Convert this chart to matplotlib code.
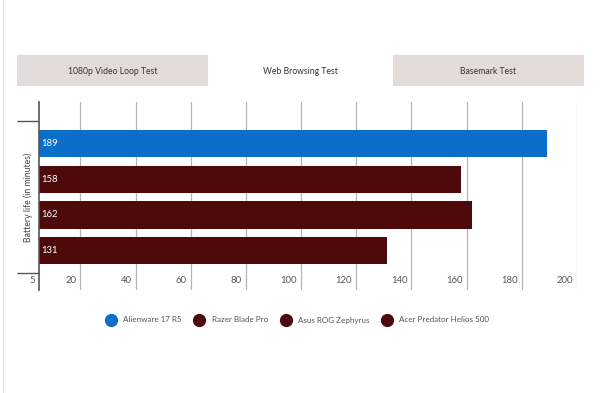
import matplotlib
matplotlib.use("Agg")
import matplotlib.pyplot as plt
from matplotlib.patches import Rectangle
from matplotlib.lines import Line2D

plt.rcParams['font.family'] = ['Lato', 'DejaVu Sans']

# data
laptops = ['Alienware 17 R5', 'Razer Blade Pro', 'Asus ROG Zephyrus', 'Acer Predator Helios 500']
minutes = [189, 158, 162, 131]
colors = ['#0b6fca', '#4e0a0b', '#4e0a0b', '#4e0a0b']
tick_vals = [5, 20, 40, 60, 80, 100, 120, 140, 160, 180, 200]
tabs = ['1080p Video Loop Test', 'Web Browsing Test', 'Basemark Test']
ylabel = 'Battery life (in minutes)'

W, H = 600, 393
fig = plt.figure(figsize=(W / 100, H / 100), dpi=100)


def fx(x):
    return x / W


def fy(y):
    return 1 - y / H


# faint page border on the left
fig.add_artist(Line2D([fx(3), fx(3)], [0, 1], transform=fig.transFigure,
                      color='#e4e4e4', linewidth=1))

# tab strip on top
tab_edges = [17, 208, 393, 584]
for i, name in enumerate(tabs):
    x0, x1 = tab_edges[i], tab_edges[i + 1]
    active = i == 1
    top = 52 if active else 55
    fig.add_artist(Rectangle((fx(x0), fy(86)), fx(x1 - x0), (86 - top) / H,
                             transform=fig.transFigure,
                             facecolor='white' if active else '#e3dbd9',
                             edgecolor='none'))
    fig.text(fx((x0 + x1) / 2), fy(71), name, ha='center', va='center',
             fontsize=6.2, color='#3a3030')

# plot area
ax = fig.add_axes([fx(39), fy(290), fx(577 - 39), (290 - 102) / H])
pos = [3, 2, 1, 0]
ax.barh(pos, minutes, height=0.77, color=colors, zorder=2)
for p, v in zip(pos, minutes):
    ax.annotate(str(v), (5, p), xytext=(1.5, 0), textcoords='offset points',
                ha='left', va='center', fontsize=6.8, color='white', zorder=3)

ax.set_xlim(5, 200)
ax.set_ylim(-1.106, 4.17)

# vertical gridlines
ax.set_xticks(tick_vals[1:])
ax.grid(axis='x', color='#b5b5b5', linewidth=0.9, zorder=0)
ax.tick_params(axis='x', length=0, labelbottom=False)

# tick labels sit inside the plot, right-aligned to each gridline
for v in tick_vals:
    ax.annotate(str(v), (v, -0.85), xytext=(-3, 0), textcoords='offset points',
                ha='right', va='center', fontsize=6.8, color='#555555')

# category boundary ticks on the left
ax.set_yticks([-0.63, 3.63])
ax.set_yticklabels(['', ''])
ax.tick_params(axis='y', length=16, width=1, color='#555555')

for s in ['top', 'right', 'bottom']:
    ax.spines[s].set_visible(False)
ax.spines['left'].set_color('#555555')
ax.spines['left'].set_linewidth(1.2)

fig.text(fx(28), fy(197), ylabel, rotation=90, ha='center', va='center',
         fontsize=6.3, color='#444444')

# legend
handles = [Line2D([], [], marker='o', linestyle='none', markersize=8.5,
                  markerfacecolor=c, markeredgecolor=c) for c in colors]
fig.legend(handles, laptops, loc='center', bbox_to_anchor=(fx(296), fy(320)),
           ncol=4, frameon=False, fontsize=5.8, handletextpad=0.5,
           columnspacing=1.2, labelcolor='#555555')

fig.savefig('out.png', dpi=100)
